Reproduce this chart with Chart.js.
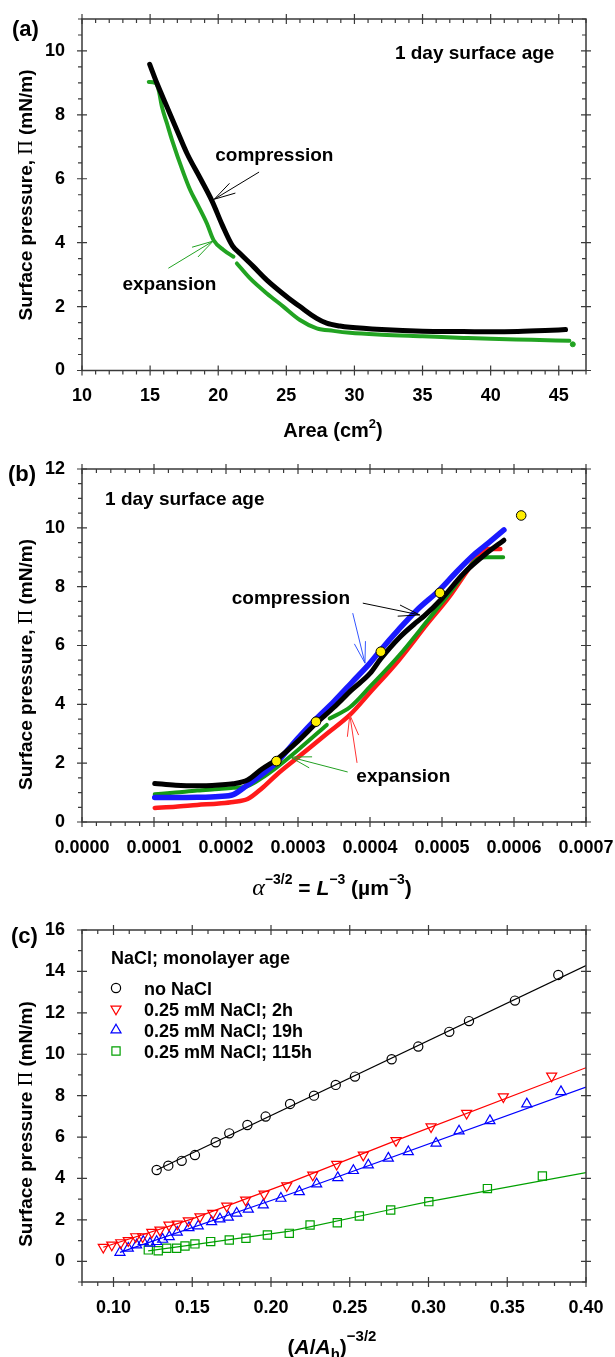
<!DOCTYPE html>
<html>
<head>
<meta charset="utf-8">
<script src="https://cdn.jsdelivr.net/npm/chart.js@4.4.1/dist/chart.umd.min.js"></script>
<style>
  body { margin: 0; background: #fff; width: 615px; height: 1357px; position: relative; overflow: hidden; }
  canvas { position: absolute; left: 0; }
</style>
</head>
<body>
<canvas id="cA" width="615" height="446" style="top:0px"></canvas>
<canvas id="cB" width="615" height="465" style="top:440px"></canvas>
<canvas id="cC" width="615" height="457" style="top:900px"></canvas>
<script>
// ===== (a) isotherm vs. trough area =====
const aCompX = [14.97, 15.51, 16.24, 16.97, 17.71, 18.7, 19.55, 20.3, 21.05, 21.6, 22.59, 23.57, 25.03, 26.0, 27.23, 27.96, 28.94, 29.67, 32, 35, 38, 40, 42, 44, 45.5];
const aCompY = [9.58, 8.98, 8.25, 7.52, 6.79, 6.0, 5.3, 4.55, 3.9, 3.66, 3.25, 2.83, 2.31, 2.0, 1.63, 1.48, 1.39, 1.35, 1.28, 1.23, 1.22, 1.21, 1.22, 1.25, 1.28];
const aExpX = [14.9, 15.38, 15.63, 15.87, 16.24, 16.61, 17.46, 17.95, 18.44, 19.17, 19.66, 20.39, 21.12, 21.25, 21.37, 22.34, 23.57, 24.78, 26.0, 27.23, 28.45, 29.67, 32, 35, 38, 40, 43, 45.78];
const aExpY = [9.03, 9.0, 8.77, 8.25, 7.73, 7.21, 6.17, 5.64, 5.23, 4.6, 4.08, 3.77, 3.56, null, 3.35, 2.88, 2.41, 2.0, 1.58, 1.32, 1.24, 1.18, 1.12, 1.07, 1.02, 0.99, 0.96, 0.93];
const aStrayX = [46.03];
const aStrayY = [0.82];
const aTicksX = [10, 15, 20, 25, 30, 35, 40, 45];
const aTicksY = [0, 2, 4, 6, 8, 10];

// ===== (b) isotherms vs. alpha^-3/2 =====
const bBlackX = [0.000101, 0.00013, 0.00016, 0.00019, 0.00021, 0.00023, 0.00025, 0.00027, 0.0003, 0.000325, 0.00035, 0.000375, 0.0004, 0.000415, 0.00044, 0.000465, 0.000475, 0.0005, 0.00053, 0.00056, 0.000586];
const bBlackY = [1.31, 1.25, 1.23, 1.26, 1.3, 1.43, 1.8, 2.12, 2.75, 3.35, 3.9, 4.5, 5.05, 5.55, 6.25, 6.8, 7.0, 7.6, 8.45, 9.1, 9.58];
const bBlueX = [0.000101, 0.00013, 0.00016, 0.00019, 0.00021, 0.000226, 0.00027, 0.0003, 0.000325, 0.00035, 0.000375, 0.0004, 0.000415, 0.00044, 0.000465, 0.000497, 0.00052, 0.000545, 0.000565, 0.000586];
const bBlueY = [0.83, 0.83, 0.84, 0.87, 0.93, 1.19, 2.02, 2.85, 3.5, 4.1, 4.75, 5.4, 5.85, 6.55, 7.2, 7.9, 8.5, 9.1, 9.5, 9.93];
const bRedX = [0.000101, 0.00013, 0.00016, 0.00019, 0.00021, 0.00023, 0.00025, 0.00027, 0.0003, 0.00034, 0.000372, 0.0004, 0.00044, 0.00048, 0.00051, 0.000534, 0.00055, 0.000565, 0.000581];
const bRedY = [0.48, 0.52, 0.58, 0.63, 0.68, 0.78, 1.15, 1.6, 2.2, 3.0, 3.64, 4.4, 5.5, 6.75, 7.65, 8.5, 9.05, 9.28, 9.28];
const bGreenX = [0.000101, 0.00013, 0.00016, 0.00019, 0.00021, 0.00023, 0.00025, 0.00027, 0.0003, 0.00034, 0.000342, 0.000344, 0.000372, 0.0004, 0.00044, 0.00048, 0.000516, 0.000534, 0.00055, 0.000562, 0.000585];
const bGreenY = [0.94, 1.0, 1.07, 1.12, 1.16, 1.22, 1.5, 1.85, 2.45, 3.3, null, 3.52, 3.9, 4.6, 5.65, 6.85, 7.95, 8.55, 8.95, 9.0, 9.0];
const bDotsX = [0.00027, 0.000325, 0.000415, 0.000497, 0.00061];
const bDotsY = [2.07, 3.41, 5.79, 7.79, 10.42];
const bTicksX = [0, 0.0001, 0.0002, 0.0003, 0.0004, 0.0005, 0.0006, 0.0007];
const bTicksY = [0, 2, 4, 6, 8, 10, 12];

// ===== (c) NaCl / monolayer age =====
const cNoX = [0.1274, 0.1348, 0.1433, 0.1517, 0.1649, 0.1735, 0.185, 0.1966, 0.2121, 0.2273, 0.2411, 0.2533, 0.2766, 0.2935, 0.3132, 0.3257, 0.3549, 0.3824];
const cNoY = [4.41, 4.62, 4.85, 5.13, 5.75, 6.18, 6.58, 6.99, 7.6, 8.0, 8.52, 8.92, 9.76, 10.37, 11.08, 11.6, 12.59, 13.83];
const c2hX = [0.0935, 0.0989, 0.1046, 0.1094, 0.1141, 0.1185, 0.1243, 0.1295, 0.1352, 0.1405, 0.1475, 0.1549, 0.163, 0.1719, 0.1839, 0.1956, 0.21, 0.2265, 0.2417, 0.2586, 0.2794, 0.3016, 0.3242, 0.3475, 0.3782];
const c2hY = [0.68, 0.79, 0.9, 1.0, 1.19, 1.19, 1.4, 1.51, 1.75, 1.8, 1.96, 2.15, 2.32, 2.67, 2.96, 3.25, 3.65, 4.17, 4.69, 5.13, 5.83, 6.5, 7.15, 7.95, 8.95];
const c19hX = [0.1041, 0.1094, 0.1147, 0.1189, 0.1232, 0.1274, 0.1312, 0.1354, 0.1405, 0.1479, 0.1538, 0.1623, 0.1676, 0.1729, 0.1782, 0.1856, 0.1951, 0.2063, 0.218, 0.229, 0.2424, 0.2523, 0.2618, 0.2745, 0.2872, 0.3048, 0.3194, 0.339, 0.3624, 0.3841];
const c19hY = [0.43, 0.63, 0.79, 0.95, 0.87, 0.95, 1.06, 1.19, 1.4, 1.62, 1.71, 1.91, 2.04, 2.13, 2.32, 2.51, 2.72, 3.04, 3.36, 3.73, 4.04, 4.38, 4.65, 4.98, 5.29, 5.7, 6.29, 6.79, 7.6, 8.19];
const c115hX = [0.1221, 0.1284, 0.1338, 0.1401, 0.1454, 0.1517, 0.1617, 0.1735, 0.1841, 0.1977, 0.2116, 0.2248, 0.2421, 0.2561, 0.276, 0.3002, 0.3374, 0.3723];
const c115hY = [0.55, 0.51, 0.63, 0.63, 0.74, 0.84, 0.95, 1.03, 1.11, 1.27, 1.35, 1.75, 1.86, 2.19, 2.48, 2.88, 3.51, 4.12];
// fitted lines
const cFitNoX = [0.1274, 0.40];
const cFitNoY = [4.41, 14.28];
const cFit2hX = [0.0935, 0.15, 0.21, 0.28, 0.40];
const cFit2hY = [0.68, 2.05, 3.75, 5.85, 9.35];
const cFit19hX = [0.1041, 0.2121, 0.40];
const cFit19hY = [0.43, 3.25, 8.41];
const cFit115hX = [0.122, 0.15, 0.212, 0.276, 0.30, 0.40];
const cFit115hY = [0.5, 0.79, 1.46, 2.5, 2.88, 4.28];
const cLegend = ['no NaCl', '0.25 mM NaCl; 2h', '0.25 mM NaCl; 19h', '0.25 mM NaCl; 115h'];
const cTicksX = [0.10, 0.15, 0.20, 0.25, 0.30, 0.35, 0.40];
const cTicksY = [0, 2, 4, 6, 8, 10, 12, 14, 16];

// ===== helpers =====
const SANS = '"Liberation Sans", Arial, sans-serif';
const SERIF = '"Liberation Serif", "Times New Roman", serif';
const F = (size, style = 'bold') => `${style} ${size}px ${SANS}`;
const pts = (xs, ys) => xs.map((x, i) => ({ x, y: ys[i] }));

function curve(xs, ys, color, width) {
  return {
    data: pts(xs, ys), showLine: true, borderColor: color, borderWidth: width,
    pointRadius: 0, cubicInterpolationMode: 'monotone', spanGaps: false,
    borderCapStyle: 'round', borderJoinStyle: 'round'
  };
}
function fitLine(xs, ys, color) {
  return { data: pts(xs, ys), showLine: true, borderColor: color, borderWidth: 1.2, pointRadius: 0, tension: 0 };
}
function marks(xs, ys, color, style, r, rot) {
  return {
    data: pts(xs, ys), showLine: false, pointStyle: style, pointRadius: r, pointRotation: rot || 0,
    borderColor: color, backgroundColor: 'rgba(0,0,0,0)', pointBorderWidth: 1.2
  };
}

function richText(ctx, x, y, segs, align) {
  let w = 0;
  segs.forEach(s => { ctx.font = s.f; s.w = ctx.measureText(s.t).width; w += s.w; });
  let cx = align === 'center' ? x - w / 2 : x;
  segs.forEach(s => { ctx.font = s.f; ctx.fillText(s.t, cx, y + (s.dy || 0)); cx += s.w; });
}

function arrow(ctx, x1, y1, x2, y2, color) {
  const ang = Math.atan2(y1 - y2, x1 - x2);
  const L = 22, h = 15 * Math.PI / 180;
  ctx.strokeStyle = color;
  ctx.lineWidth = 1;
  ctx.beginPath();
  ctx.moveTo(x1, y1); ctx.lineTo(x2, y2);
  ctx.moveTo(x2 + L * Math.cos(ang - h), y2 + L * Math.sin(ang - h));
  ctx.lineTo(x2, y2);
  ctx.lineTo(x2 + L * Math.cos(ang + h), y2 + L * Math.sin(ang + h));
  ctx.stroke();
}

function symbol(ctx, style, x, y, r, color) {
  ctx.strokeStyle = color; ctx.lineWidth = 1.2;
  ctx.beginPath();
  if (style === 'circle') ctx.arc(x, y, r, 0, Math.PI * 2);
  else if (style === 'rect') { const s = r * Math.SQRT1_2; ctx.rect(x - s, y - s, 2 * s, 2 * s); }
  else {
    const d = style === 'down' ? -1 : 1;
    for (let k = 0; k < 3; k++) {
      const a = -Math.PI / 2 + k * 2 * Math.PI / 3;
      const px = x + r * Math.cos(a), py = y + d * r * Math.sin(a);
      k ? ctx.lineTo(px, py) : ctx.moveTo(px, py);
    }
    ctx.closePath();
  }
  ctx.stroke();
}

// frame: box, ticks on four sides, titles, notes
function framePlugin(cfg) {
  return {
    id: 'frame',
    afterDraw(chart) {
      const { ctx, chartArea: a, scales: { x, y } } = chart;
      ctx.save();
      ctx.strokeStyle = '#3a3a3a';
      ctx.lineWidth = 1.5;
      ctx.strokeRect(a.left, a.top, a.right - a.left, a.bottom - a.top);
      ctx.lineWidth = 1.2;
      ctx.beginPath();
      const near = (v, list) => list.some(m => Math.abs(m - v) < cfg.xMinor / 100);
      const nearY = (v, list) => list.some(m => Math.abs(m - v) < cfg.yMinor / 100);
      for (let i = 0; ; i++) {
        const v = x.min + i * cfg.xMinor;
        if (v > x.max + cfg.xMinor / 100) break;
        const px = x.getPixelForValue(v);
        if (near(v, cfg.xTicks)) {
          ctx.moveTo(px, a.bottom - 5); ctx.lineTo(px, a.bottom + 5);
          ctx.moveTo(px, a.top - 5); ctx.lineTo(px, a.top + 5);
        } else {
          ctx.moveTo(px, a.bottom); ctx.lineTo(px, a.bottom + 4);
          ctx.moveTo(px, a.top); ctx.lineTo(px, a.top + 4);
        }
      }
      for (let i = 0; ; i++) {
        const v = y.min + i * cfg.yMinor;
        if (v > y.max + cfg.yMinor / 100) break;
        const py = y.getPixelForValue(v);
        if (nearY(v, cfg.yTicks)) {
          ctx.moveTo(a.left - 5, py); ctx.lineTo(a.left + 5, py);
          ctx.moveTo(a.right - 5, py); ctx.lineTo(a.right + 5, py);
        } else {
          ctx.moveTo(a.left - 4, py); ctx.lineTo(a.left, py);
          ctx.moveTo(a.right - 4, py); ctx.lineTo(a.right, py);
        }
      }
      ctx.stroke();

      ctx.fillStyle = '#000';
      ctx.textAlign = 'left';
      ctx.textBaseline = 'alphabetic';
      // panel letter
      ctx.font = F(22);
      ctx.fillText(cfg.letter, cfg.letterX, cfg.letterY);
      // x title
      richText(ctx, cfg.xTitleX, cfg.xTitleY, cfg.xTitle, 'center');
      // y title
      ctx.save();
      ctx.translate(25, cfg.yTitleY);
      ctx.rotate(-Math.PI / 2);
      richText(ctx, 0, 7, cfg.yTitle, 'center');
      ctx.restore();
      // notes in data coordinates
      (cfg.notes || []).forEach(n => {
        ctx.font = F(19);
        ctx.fillStyle = '#000';
        ctx.fillText(n.t, x.getPixelForValue(n.x), y.getPixelForValue(n.y) + 7);
      });
      (cfg.arrows || []).forEach(r => {
        arrow(ctx, x.getPixelForValue(r.from[0]), y.getPixelForValue(r.from[1]),
          x.getPixelForValue(r.to[0]), y.getPixelForValue(r.to[1]), r.c);
      });
      if (cfg.legend) cfg.legend(ctx, a);
      ctx.restore();
    }
  };
}

function makeChart(id, cfg) {
  return new Chart(document.getElementById(id), {
    type: 'scatter',
    data: { datasets: cfg.datasets },
    options: {
      responsive: false,
      animation: false,
      layout: { padding: { top: cfg.top, right: 29, left: 0, bottom: 0 } },
      plugins: { legend: { display: false }, tooltip: { enabled: false } },
      scales: {
        x: {
          type: 'linear', min: cfg.xMin, max: cfg.xMax,
          grid: { display: false, drawTicks: false }, border: { display: false },
          afterBuildTicks: s => { s.ticks = cfg.xTicks.map(v => ({ value: v })); },
          ticks: { font: { family: SANS, size: 18, weight: 'bold' }, color: '#000', padding: 15, maxRotation: 0, autoSkip: false, callback: cfg.xFmt },
          afterFit: s => { s.height = cfg.h - cfg.bottom; s.paddingLeft = 0; s.paddingRight = 0; }
        },
        y: {
          type: 'linear', min: cfg.yMin, max: cfg.yMax,
          grid: { display: false, drawTicks: false }, border: { display: false },
          afterBuildTicks: s => { s.ticks = cfg.yTicks.map(v => ({ value: v })); },
          ticks: { font: { family: SANS, size: 18, weight: 'bold' }, color: '#000', padding: 17, autoSkip: false, callback: v => String(v) },
          afterFit: s => { s.width = 82; s.paddingTop = 0; s.paddingBottom = 0; }
        }
      }
    },
    plugins: [framePlugin(cfg)]
  });
}

const yTitleComma = [{ t: 'Surface pressure, ', f: F(19) }, { t: 'Π', f: `20px ${SERIF}` }, { t: ' (mN/m)', f: F(19) }];
const GREEN_A = '#22a322';

// ===== panel (a) =====
makeChart('cA', {
  h: 446, top: 19, bottom: 370.5,
  xMin: 10, xMax: 47, yMin: 0, yMax: 11, xMinor: 1, yMinor: 0.5,
  xTicks: aTicksX, yTicks: aTicksY, xFmt: v => String(v),
  datasets: [
    curve(aCompX, aCompY, '#000', 5),
    curve(aExpX, aExpY, GREEN_A, 4),
    { data: pts(aStrayX, aStrayY), pointRadius: 2.5, backgroundColor: GREEN_A, borderColor: GREEN_A }
  ],
  letter: '(a)', letterX: 12, letterY: 36,
  xTitleX: 333, xTitleY: 437,
  xTitle: [{ t: 'Area (cm', f: F(20) }, { t: '2', f: F(13), dy: -9 }, { t: ')', f: F(20) }],
  yTitleY: 195, yTitle: yTitleComma,
  notes: [
    { t: '1 day surface age', x: 32.97, y: 9.96 },
    { t: 'compression', x: 19.78, y: 6.77 },
    { t: 'expansion', x: 12.97, y: 2.74 }
  ],
  arrows: [
    { from: [23.0, 6.21], to: [19.71, 5.36], c: '#000' },
    { from: [16.34, 3.2], to: [19.63, 4.05], c: GREEN_A }
  ]
});

// ===== panel (b) =====
makeChart('cB', {
  h: 465, top: 29, bottom: 382,
  xMin: 0, xMax: 0.0007, yMin: 0, yMax: 12, xMinor: 0.00002, yMinor: 0.5,
  xTicks: bTicksX, yTicks: bTicksY, xFmt: v => Number(v).toFixed(4),
  datasets: [
    { data: pts(bDotsX, bDotsY), pointRadius: 4.8, backgroundColor: '#ffee00', borderColor: '#000', borderWidth: 1 },
    curve(bBlackX, bBlackY, '#000', 5),
    curve(bBlueX, bBlueY, '#1a1aff', 5.5),
    curve(bGreenX, bGreenY, '#169a16', 4),
    curve(bRedX, bRedY, '#ff1a1a', 4.5)
  ],
  letter: '(b)', letterX: 8, letterY: 41,
  xTitleX: 332, xTitleY: 455,
  xTitle: [
    { t: 'α', f: `italic 24px ${SERIF}` }, { t: '−3/2', f: F(14), dy: -11 },
    { t: ' = ', f: F(21) }, { t: 'L', f: F(21, 'italic bold') }, { t: '−3', f: F(14), dy: -11 },
    { t: ' (µm', f: F(21) }, { t: '−3', f: F(14), dy: -11 }, { t: ')', f: F(21) }
  ],
  yTitleY: 224.5, yTitle: yTitleComma,
  notes: [
    { t: '1 day surface age', x: 0.000032, y: 11.01 },
    { t: 'compression', x: 0.000208, y: 7.65 },
    { t: 'expansion', x: 0.000381, y: 1.6 }
  ],
  arrows: [
    { from: [0.00039, 7.44], to: [0.000469, 7.04], c: '#000' },
    { from: [0.000376, 7.10], to: [0.000393, 5.40], c: '#3355ff' },
    { from: [0.000382, 2.01], to: [0.000372, 3.64], c: '#ff3333' },
    { from: [0.000369, 1.70], to: [0.000289, 2.21], c: '#22a022' }
  ]
});

// ===== panel (c) =====
const cColors = ['#000', '#ff0000', '#0000ff', '#00a000'];
const cStyles = ['circle', 'down', 'up', 'rect'];
makeChart('cC', {
  h: 457, top: 30, bottom: 382,
  xMin: 0.08, xMax: 0.40, yMin: -1, yMax: 16, xMinor: 0.01, yMinor: 1,
  xTicks: cTicksX, yTicks: cTicksY, xFmt: v => Number(v).toFixed(2),
  datasets: [
    marks(cNoX, cNoY, cColors[0], 'circle', 4.6),
    marks(c2hX, c2hY, cColors[1], 'triangle', 5.8, 180),
    marks(c19hX, c19hY, cColors[2], 'triangle', 5.8),
    marks(c115hX, c115hY, cColors[3], 'rect', 5.8),
    fitLine(cFitNoX, cFitNoY, cColors[0]),
    fitLine(cFit2hX, cFit2hY, cColors[1]),
    fitLine(cFit19hX, cFit19hY, cColors[2]),
    fitLine(cFit115hX, cFit115hY, cColors[3])
  ],
  letter: '(c)', letterX: 11, letterY: 43,
  xTitleX: 332, xTitleY: 454,
  xTitle: [
    { t: '(', f: F(21) }, { t: 'A', f: F(21, 'italic bold') }, { t: '/', f: F(21) },
    { t: 'A', f: F(21, 'italic bold') }, { t: 'h', f: F(15), dy: 5 }, { t: ')', f: F(21) },
    { t: '−3/2', f: F(15), dy: -13 }
  ],
  yTitleY: 224, yTitle: [{ t: 'Surface pressure ', f: F(19) }, { t: 'Π', f: `20px ${SERIF}` }, { t: ' (mN/m)', f: F(19) }],
  legend: (ctx, a) => {
    ctx.fillStyle = '#000';
    ctx.font = F(18);
    ctx.fillText('NaCl; monolayer age', a.left + 29, a.top + 34);
    cLegend.forEach((lab, i) => {
      const ry = a.top + 58 + i * 21;
      symbol(ctx, cStyles[i], a.left + 34, ry, cStyles[i] === 'circle' ? 4.6 : 5.8, cColors[i]);
      ctx.fillStyle = '#000';
      ctx.font = F(18);
      ctx.fillText(lab, a.left + 62, ry + 7);
    });
  }
});
</script>
</body>
</html>
